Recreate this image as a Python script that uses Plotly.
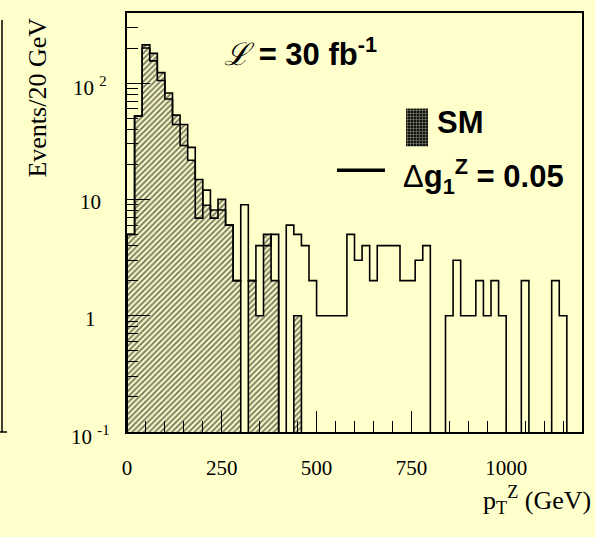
import numpy as np
import plotly.graph_objects as go

# ---------------- data ----------------
bin_edges_gev = list(range(0, 1201, 20))          # 20 GeV bins, 0..1200
sm_events = [5, 52, 213, 180, 123, 82, 53, 44, 21.7, 14.8,
             8.9, 8.1, 10, 6, 2, 0, 2, 1, 5, 2,
             0, 0, 1, 0, 0, 0, 0, 0, 0, 0,
             0, 0, 0, 0, 0, 0, 0, 0, 0, 0,
             0, 0, 0, 0, 0, 0, 0, 0, 0, 0,
             0, 0, 0, 0, 0, 0, 0, 0, 0, 0]
dg1z_events = [5, 52, 200, 155, 105, 73, 44, 29, 28, 6.9,
               12, 6.9, 8.1, 6, 2, 9, 2, 4, 4, 5,
               0, 6, 5, 4, 2, 1, 1, 1, 1, 5,
               3, 4, 2, 4, 4, 4, 2, 2, 3, 4,
               0, 0, 1, 3, 1, 1, 2, 1, 2, 1,
               0, 0, 2, 0, 0, 0, 2, 1, 0, 0]
x_tick_vals = [0, 250, 500, 750, 1000]
x_tick_text = ["0", "250", "500", "750", "1000"]
y_tick_vals = [0.1, 1, 10, 100]
y_tick_text = ["10 <sup>-1</sup>", "1", "10", "10 <sup>2</sup>"]
y_range_max = 400

# ---------------- styling ----------------
BG = "#ffffcc"
SERIF = "Liberation Serif"
SANS = "Liberation Sans"
W, H = 595, 537
L, R, T, B = 127, 13, 11, 105
PW, PH = W - L - R, H - T - B


def px2paper(px, py):
    return (px - L) / PW, (H - B - py) / PH


edges = np.array(bin_edges_gev, dtype=float)
centers = (edges[:-1] + edges[1:]) / 2
widths = np.diff(edges)
floor = 1e-3


def step_xy(vals):
    v = [x if x > 0 else floor for x in vals]
    xs = [edges[0]] + list(edges[:-1]) + [edges[-1]]
    ys = [floor] + v + [floor]
    return xs, ys


fig = go.Figure()

# SM hatched fill
fig.add_trace(go.Bar(
    x=centers, y=sm_events, width=widths,
    marker=dict(color=BG, line=dict(width=0),
                pattern=dict(shape="/", fgcolor="black", bgcolor=BG,
                             size=4, solidity=0.5)),
    showlegend=False, hoverinfo="skip"))

# SM outline
xs, ys = step_xy(sm_events)
fig.add_trace(go.Scatter(x=xs, y=ys, mode="lines", line_shape="hv",
                         line=dict(color="black", width=1.6),
                         showlegend=False, hoverinfo="skip"))
# Delta g1Z outline
xs, ys = step_xy(dg1z_events)
fig.add_trace(go.Scatter(x=xs, y=ys, mode="lines", line_shape="hv",
                         line=dict(color="black", width=1.6),
                         showlegend=False, hoverinfo="skip"))

# legend box (dotted) on overlay axes
bx0, by0 = px2paper(406, 145)
bx1, by1 = px2paper(428, 107)
fig.add_trace(go.Scatter(
    x=[bx0, bx1, bx1, bx0, bx0], y=[by0, by0, by1, by1, by0],
    xaxis="x2", yaxis="y2", mode="lines", fill="toself",
    line=dict(width=0, color="black"), fillcolor="#111111",
    fillpattern=dict(shape="+", fgcolor=BG, bgcolor="#111111", size=3, solidity=0.35),
    showlegend=False, hoverinfo="skip"))

minor_y = [m * 10.0 ** e for e in range(-1, 3) for m in range(2, 10) if m * 10.0 ** e < y_range_max]

fig.update_layout(
    width=W, height=H,
    margin=dict(l=L, r=R, t=T, b=B),
    paper_bgcolor=BG, plot_bgcolor=BG,
    barmode="overlay", bargap=0,
    showlegend=False,
    xaxis=dict(range=[0, 1200], showline=True, linecolor="black", linewidth=2, mirror=True,
               ticks="inside", ticklen=21, tickwidth=1, tickcolor="black",
               tickvals=x_tick_vals, ticktext=x_tick_text,
               minor=dict(ticks="inside", ticklen=11, dtick=50, tickcolor="black", tickwidth=1),
               showgrid=False, zeroline=False,
               tickfont=dict(family=SERIF, size=21, color="black"),
               ticklabelstandoff=16),
    yaxis=dict(type="log", range=[-1, np.log10(y_range_max)],
               showline=True, linecolor="black", linewidth=2, mirror=True,
               ticks="inside", ticklen=23, tickwidth=1, tickcolor="black",
               tickvals=y_tick_vals, showticklabels=False,
               minor=dict(ticks="inside", ticklen=11, tickmode="array", tickvals=minor_y,
                          tickcolor="black", tickwidth=1),
               showgrid=False, zeroline=False),
    xaxis2=dict(overlaying="x", range=[0, 1], visible=False, fixedrange=True),
    yaxis2=dict(overlaying="y", range=[0, 1], visible=False, fixedrange=True),
)

ann = []
# y tick labels (centred, ROOT style)
label_cx = (90 - L) / PW
for v, t in zip(y_tick_vals, y_tick_text):
    ann.append(dict(text=t, x=label_cx, y=np.log10(v), xref="paper", yref="y",
                    showarrow=False, xanchor="center", yanchor="middle",
                    yshift=-3 if "sup" in t else -3,
                    font=dict(family=SERIF, size=21, color="black")))
# y title
ax, ay = px2paper(38, 96)
ann.append(dict(text="Events/20 GeV", x=ax, y=ay, xref="paper", yref="paper",
                textangle=-90, showarrow=False, xanchor="center", yanchor="middle",
                font=dict(family=SERIF, size=26, color="black")))
# x title
ax, ay = px2paper(593, 500)
ann.append(dict(text="p<sub>T</sub><sup>Z</sup> (GeV)", x=ax, y=ay, xref="paper", yref="paper",
                showarrow=False, xanchor="right", yanchor="middle",
                font=dict(family=SERIF, size=26, color="black")))
# luminosity
ax, ay = px2paper(222, 50)
ann.append(dict(text="<span style='font-family:DejaVu Serif;font-style:italic;font-weight:normal'>ℒ</span> <b>= 30 fb<sup>-1</sup></b>",
                x=ax, y=ay, xref="paper", yref="paper",
                showarrow=False, xanchor="left", yanchor="middle",
                font=dict(family=SANS, size=31, color="black")))
# SM label
ax, ay = px2paper(435, 121)
ann.append(dict(text="<b>SM</b>", x=ax, y=ay, xref="paper", yref="paper",
                showarrow=False, xanchor="left", yanchor="middle",
                font=dict(family=SANS, size=31, color="black")))
# Delta g label
ax, ay = px2paper(401, 175)
ann.append(dict(text="Δ<b>g<sub>1</sub><sup>Z</sup> = 0.05</b>", x=ax, y=ay, xref="paper", yref="paper",
                showarrow=False, xanchor="left", yanchor="middle",
                font=dict(family=SANS, size=31, color="black")))
fig.update_layout(annotations=ann)

# legend line and left-edge neighbour frame fragment
lx0, ly = px2paper(337, 169)
lx1, _ = px2paper(385, 169)
fx, fy0 = px2paper(2, 18)
_, fy1 = px2paper(2, 432)
fx2, _ = px2paper(7, 432)
fig.update_layout(shapes=[
    dict(type="line", xref="paper", yref="paper", x0=lx0, x1=lx1, y0=ly, y1=ly,
         line=dict(color="black", width=3.5)),
    dict(type="line", xref="paper", yref="paper", x0=fx, x1=fx, y0=fy0, y1=fy1,
         line=dict(color="black", width=1.5)),
    dict(type="line", xref="paper", yref="paper", x0=-L / PW, x1=fx2, y0=fy1, y1=fy1,
         line=dict(color="black", width=1.5)),
])

fig.write_html("out.html", config={"displayModeBar": False},
               post_script="document.body.style.margin='0';document.body.style.background='%s';" % BG)
